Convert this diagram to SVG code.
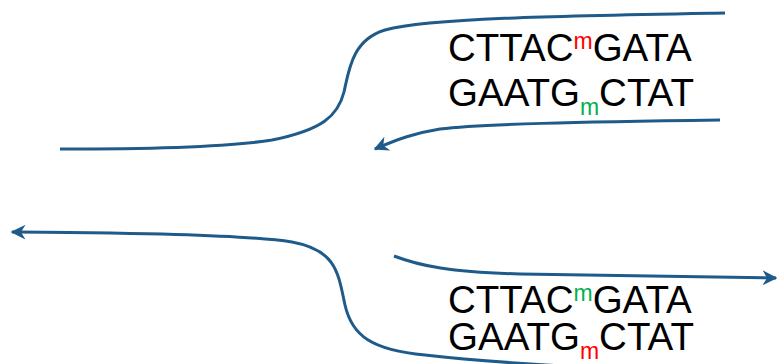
<svg xmlns="http://www.w3.org/2000/svg" width="778" height="364" viewBox="0 0 778 364">
  <style>
    .strand { fill: none; stroke: #1f5b8a; stroke-width: 3; stroke-linecap: butt; }
    .seq { font-family: "Liberation Sans", Arial, sans-serif; font-size: 38.5px; fill: #000; }
    .mod { font-size: 23px; }
    .red { fill: #ff0000; }
    .green { fill: #00b050; }
  </style>
  <defs>
    <marker id="head" viewBox="0 0 10 10" refX="9" refY="5" markerWidth="5" markerHeight="5" orient="auto" markerUnits="strokeWidth">
      <path d="M0,0 L10,5 L0,10 L3,5 Z" fill="#1f5b8a"/>
    </marker>
  </defs>

  <g id="connectors">
    <!-- upper parental strand -->
    <path class="strand" d="M725,13 C560,16 430,18 385,30 C352,40 349,70 344,92 C338,116 322,130 272,140 C222,148 130,149 60,149"/>
    <!-- upper nascent strand -->
    <path class="strand" marker-end="url(#head)" d="M720,120 C580,122 480,124 440,129 C415,133 398,139 375,149"/>
    <!-- lower parental strand, running off the bottom edge -->
    <path class="strand" marker-end="url(#head)" d="M600,368 C520,364 460,359 425,355 C372,350 352,336 345,305 C338,272 336,250 292,242 C240,234 120,233 12,232"/>
    <!-- lower nascent strand -->
    <path class="strand" marker-end="url(#head)" d="M394,256 C420,266 450,272 520,274 C600,276 680,277 776,278"/>
  </g>

  <g id="top-duplex">
    <text class="seq" x="448" y="61">CTTAC<tspan class="mod red" dy="-12">m</tspan><tspan dy="12">GATA</tspan></text>
    <text class="seq" x="448" y="106">GAATG<tspan class="mod green" dy="9">m</tspan><tspan dy="-9">CTAT</tspan></text>
  </g>

  <g id="bottom-duplex">
    <text class="seq" x="448" y="313">CTTAC<tspan class="mod green" dy="-12">m</tspan><tspan dy="12">GATA</tspan></text>
    <text class="seq" x="448" y="350">GAATG<tspan class="mod red" dy="9">m</tspan><tspan dy="-9">CTAT</tspan></text>
  </g>
</svg>
